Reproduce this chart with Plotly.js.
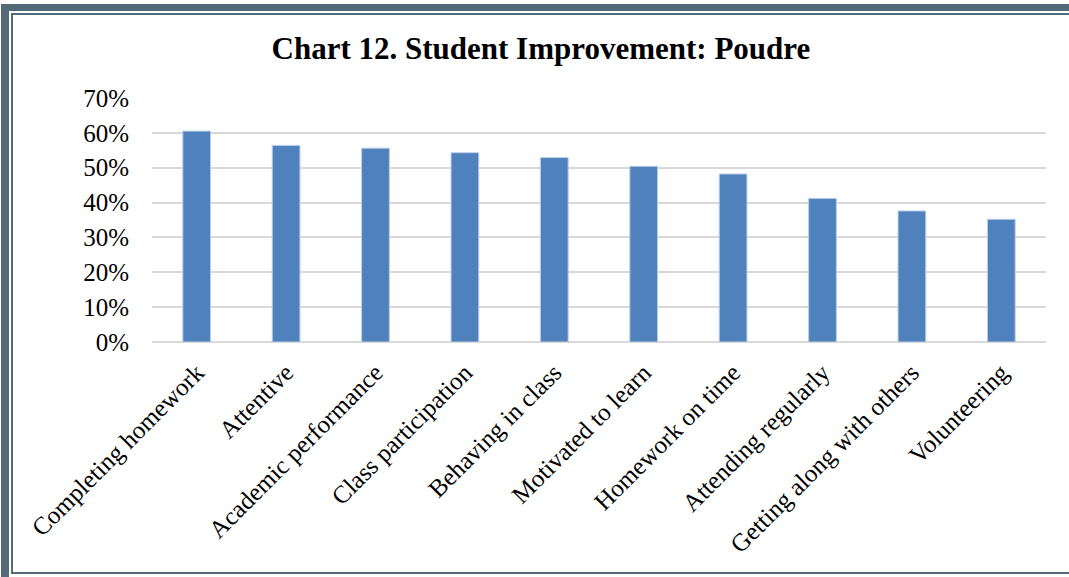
<!DOCTYPE html>
<html>
<head>
<meta charset="utf-8">
<script src="https://cdn.plot.ly/plotly-3.0.1.min.js"></script>
<style>
  body { margin: 0; background: #fff; }
  #wrap { position: relative; width: 1069px; height: 577px; overflow: hidden; }
  #outer { position: absolute; left: 1px; top: 4px; width: 1200px; height: 700px;
           border-left: 8px solid #546a76; border-top: 7px solid #546a76; }
  #inner { position: absolute; left: 11px; top: 13px; width: 1200px; height: 557px;
           border-left: 2px solid #546a76; border-top: 2px solid #546a76; border-bottom: 2px solid #546a76; }
  #chart { position: absolute; left: 0; top: 0; }
</style>
</head>
<body>
<div id="wrap">
  <div id="chart"></div>
  <div id="outer"></div>
  <div id="inner"></div>
</div>
<script>
// Student improvement, share of students
const categories = ["Completing homework", "Attentive", "Academic performance", "Class participation",
  "Behaving in class", "Motivated to learn", "Homework on time", "Attending regularly",
  "Getting along with others", "Volunteering"];
const improvement = [0.605, 0.564, 0.556, 0.543, 0.529, 0.504, 0.482, 0.412, 0.376, 0.352];
const yTicks = [0, 0.1, 0.2, 0.3, 0.4, 0.5, 0.6, 0.7];

const serif = "'Liberation Serif', serif";

const data = [{
  type: "bar",
  x: categories,
  y: improvement,
  marker: { color: "#4f81bd", line: { color: "#b9cde5", width: 1 } },
  hoverinfo: "x+y"
}];

const layout = {
  width: 1069,
  height: 577,
  margin: { l: 152, r: 23, t: 98, b: 235 },
  paper_bgcolor: "#ffffff",
  plot_bgcolor: "#ffffff",
  showlegend: false,
  bargap: 0.69,
  title: {
    text: "<b>Chart 12. Student Improvement: Poudre</b>",
    font: { family: serif, size: 31, color: "#000" },
    x: 0.506, xanchor: "center",
    y: 0.917, yanchor: "middle"
  },
  xaxis: {
    type: "category",
    tickangle: -45,
    tickfont: { family: serif, size: 25, color: "#000" },
    showline: false,
    showgrid: false,
    ticks: "",
    ticklabelstandoff: 10
  },
  yaxis: {
    range: [0, 0.7],
    tickvals: yTicks,
    tickformat: ".0%",
    tickfont: { family: serif, size: 25, color: "#000" },
    gridcolor: "#d9d9d9",
    gridwidth: 2,
    zeroline: true,
    zerolinecolor: "#d9d9d9",
    zerolinewidth: 2,
    showline: false,
    ticks: "",
    ticklabelstandoff: 22
  }
};

Plotly.newPlot("chart", data, layout, { displayModeBar: false, staticPlot: true });
</script>
</body>
</html>
